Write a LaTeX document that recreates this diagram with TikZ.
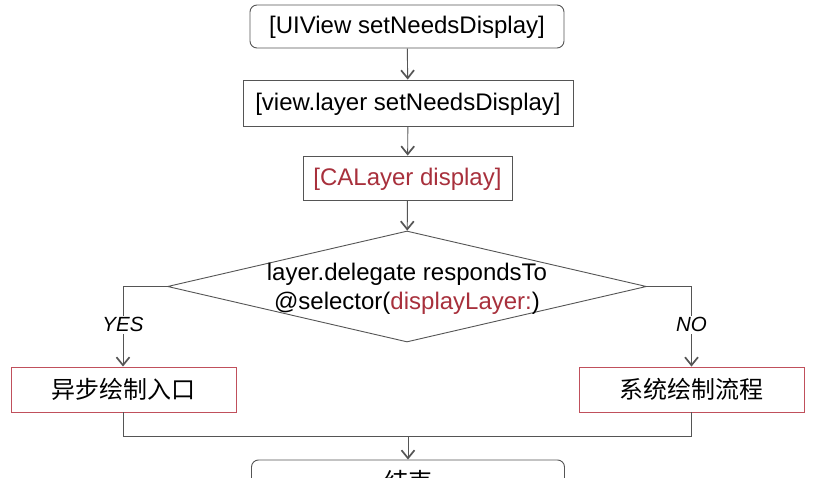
\documentclass[tikz,border=0pt]{standalone}
\usepackage{fontspec}
\setmainfont{Liberation Sans}
\newfontfamily\cjk{Noto Sans CJK SC}
\usetikzlibrary{shapes.geometric,arrows.meta}
\definecolor{linegray}{HTML}{555555}
\definecolor{codered}{HTML}{A8303C}
\definecolor{boxred}{HTML}{C0505C}
\tikzset{
	flow/.style={draw=linegray,line width=0.9pt},
	arr/.style={flow,-{Straight Barb[length=8pt,width=13pt,line width=1.7pt]}},
	callbox/.style 2 args={draw=linegray,line width=0.9pt,rounded corners=7pt,minimum width=#1,minimum height=#2,inner sep=0pt,text depth=3pt,font=\fontsize{24}{28}\selectfont},
	plainbox/.style 2 args={draw=linegray,line width=0.9pt,minimum width=#1,minimum height=#2,inner sep=0pt,text depth=3pt,font=\fontsize{24}{28}\selectfont},
	branchbox/.style={draw=boxred,line width=0.9pt,minimum width=225pt,minimum height=45pt,inner sep=0pt,font=\cjk\fontsize{24}{28}\selectfont},
	decision/.style={draw=linegray,line width=0.9pt,diamond,aspect=4.3,minimum width=479pt,minimum height=111pt,inner sep=0pt},
	answer/.style={fill=white,inner sep=2pt,font=\itshape\fontsize{20.5}{22}\selectfont}
}
\begin{document}
\begin{tikzpicture}[x=1pt,y=-1pt]
	\useasboundingbox (0,0) rectangle (817,478);
	\fill[white] (0,0) rectangle (817,478);

	\node [callbox={314pt}{43pt}] (uiview) at (407,26.5) {[UIView setNeedsDisplay]};
	\node [plainbox={330pt}{46pt}] (viewlayer) at (408,103) {[view.layer setNeedsDisplay]};
	\node [plainbox={209pt}{44pt},text=codered] (display) at (407.5,178) {[CALayer display]};
	\node [decision] (check) at (407,286.5) {};
	\node [align=center,font=\fontsize{24}{28.5}\selectfont,yshift=-2.5pt] (checktext) at (check) {layer.delegate respondsTo\\@selector(\textcolor{codered}{displayLayer:})};
	\node [branchbox] (async) at (123.5,389.5) {异步绘制入口};
	\node [branchbox] (system) at (691.5,389.5) {系统绘制流程};
	\node [callbox={313pt}{43pt},font=\cjk\fontsize{24}{28}\selectfont] (finish) at (408,481.5) {结束};

	\coordinate (yescorner) at (123,286.5);
	\coordinate (nocorner) at (691.5,286.5);
	\coordinate (yesbottom) at (123,436);
	\coordinate (nobottom) at (691.5,436);
	\coordinate (merge) at (408,436);

	\draw [arr] (uiview) -- (viewlayer);
	\draw [arr] (viewlayer) -- (display);
	\draw [arr] (display) -- (check);
	\draw [arr] (check.west) -- (yescorner) -- (async.north -| yescorner) node [answer,pos=0.48] (yes) {YES};
	\draw [arr] (check.east) -- (nocorner) -- (system.north -| nocorner) node [answer,pos=0.48] (no) {NO};
	\draw [flow] (async.south -| yesbottom) -- (yesbottom) -- (nobottom) -- (system.south -| nobottom);
	\draw [arr] (merge) -- (finish);
\end{tikzpicture}
\end{document}
